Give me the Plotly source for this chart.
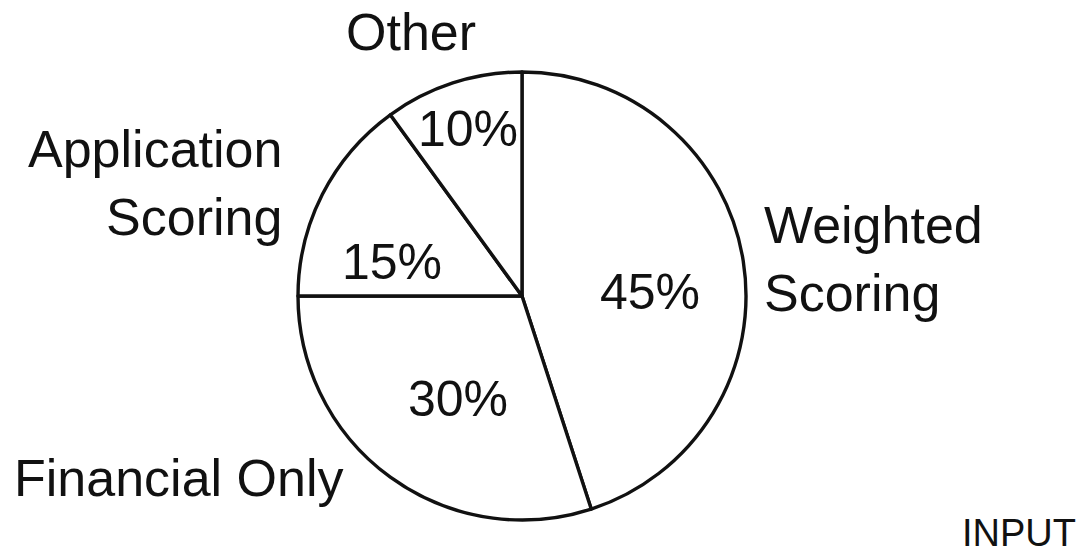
import plotly.graph_objects as go

# Share of each method (percent), clockwise from 12 o'clock
methods = ["Weighted Scoring", "Financial Only", "Application Scoring", "Other"]
shares = [45, 30, 15, 10]

W, H = 1086, 554
FONT = "Liberation Sans, Arial, Helvetica, sans-serif"
INK = "#111111"

# pie centre and radius in pixels
cx, cy, r = 522, 296, 224

fig = go.Figure(
    go.Pie(
        labels=methods,
        values=shares,
        sort=False,
        direction="clockwise",
        rotation=0,
        textinfo="none",
        hoverinfo="label+percent",
        marker=dict(colors=["white"] * len(shares), line=dict(color=INK, width=3.4)),
        domain=dict(x=[(cx - r) / W, (cx + r) / W], y=[1 - (cy + r) / H, 1 - (cy - r) / H]),
        showlegend=False,
    )
)


def px(x):
    return x / W


def py(y):
    return 1 - y / H


annotations = []

# percentage labels inside the slices
pct_pos = {
    "Weighted Scoring": (650, 292),
    "Financial Only": (458, 399),
    "Application Scoring": (392, 262),
    "Other": (468, 129),
}
for name, val in zip(methods, shares):
    x, y = pct_pos[name]
    annotations.append(dict(
        x=px(x), y=py(y), xref="paper", yref="paper",
        text=f"{val}%", showarrow=False,
        xanchor="center", yanchor="middle",
        font=dict(family=FONT, size=50, color=INK),
    ))

# category names around the pie
name_labels = [
    ("Other", 411, 32, "center", "center"),
    ("Application<br>Scoring", 284, 183, "right", "right"),
    ("Weighted<br>Scoring", 762, 259, "left", "left"),
    ("Financial Only", 12, 478, "left", "left"),
]
for text, x, y, xa, al in name_labels:
    annotations.append(dict(
        x=px(x), y=py(y), xref="paper", yref="paper",
        text=text, showarrow=False, align=al,
        xanchor=xa, yanchor="middle",
        font=dict(family=FONT, size=52, color=INK),
    ))

annotations.append(dict(
    x=px(1078), y=py(533), xref="paper", yref="paper",
    text="INPUT", showarrow=False,
    xanchor="right", yanchor="middle",
    font=dict(family=FONT, size=38, color=INK),
))

fig.update_layout(
    width=W, height=H,
    margin=dict(l=0, r=0, t=0, b=0),
    paper_bgcolor="white",
    plot_bgcolor="white",
    annotations=annotations,
)

fig.write_html("out.html")
